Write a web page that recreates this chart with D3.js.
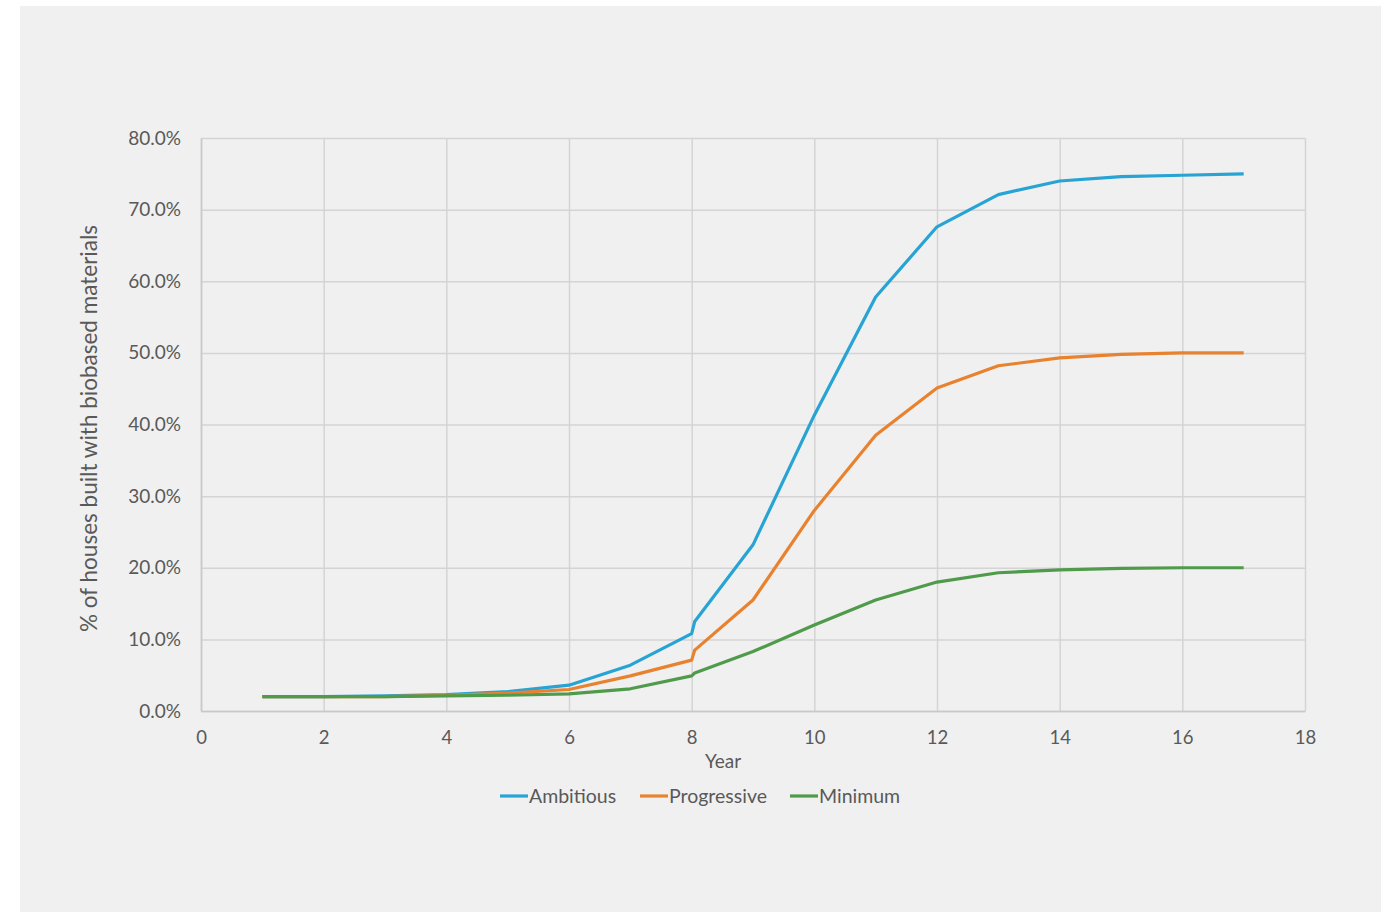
<!DOCTYPE html>
<html>
<head>
<meta charset="utf-8">
<script src="https://cdn.jsdelivr.net/npm/d3@7"></script>
<style>
  html, body { margin: 0; padding: 0; background: #ffffff; }
  svg { display: block; }
</style>
</head>
<body>
<svg id="chart" width="1386" height="912"></svg>
<script>
// ---- data ----
const years = [1, 2, 3, 4, 5, 6, 7, 8, 8.05, 9, 10, 11, 12, 13, 14, 15, 16, 17];
const ambitious   = [2.0, 2.0, 2.1, 2.3, 2.7, 3.6, 6.4, 10.8, 12.5, 23.2, 41.3, 57.8, 67.6, 72.1, 74.0, 74.6, 74.8, 75.0];
const progressive = [2.0, 2.0, 2.0, 2.2, 2.5, 3.0, 4.9, 7.1, 8.5, 15.5, 28.0, 38.5, 45.1, 48.2, 49.3, 49.8, 50.0, 50.0];
const minimum     = [2.0, 2.0, 2.0, 2.1, 2.2, 2.4, 3.1, 4.9, 5.3, 8.3, 12.0, 15.5, 18.0, 19.3, 19.7, 19.9, 20.0, 20.0];
const seriesNames = ["Ambitious", "Progressive", "Minimum"];
const seriesColors = ["#27a3d4", "#e8822f", "#4f9b4b"];
const xTicks = [0, 2, 4, 6, 8, 10, 12, 14, 16, 18];
const yTicks = [0, 10, 20, 30, 40, 50, 60, 70, 80];
const xTitle = "Year";
const yTitle = "% of houses built with biobased materials";

const seriesValues = [ambitious, progressive, minimum];

// ---- layout ----
const svg = d3.select("#chart");
const font = "Lato, 'Open Sans', 'Liberation Sans', sans-serif";
const textColor = "#595959";

svg.append("rect").attr("x", 20).attr("y", 6).attr("width", 1361).attr("height", 906).attr("fill", "#f0f0f0");

const plot = { left: 201, right: 1305, top: 138, bottom: 711 };
const x = d3.scaleLinear().domain([0, 18]).range([plot.left, plot.right]);
const y = d3.scaleLinear().domain([0, 80]).range([plot.bottom, plot.top]);

// gridlines
const grid = svg.append("g");
grid.selectAll("line.h").data(yTicks).join("line")
  .attr("x1", plot.left).attr("x2", plot.right)
  .attr("y1", d => y(d) + 0.5).attr("y2", d => y(d) + 0.5)
  .attr("stroke", "#d4d4d4").attr("stroke-width", 1.5);
grid.selectAll("line.v").data(xTicks).join("line")
  .attr("y1", plot.top).attr("y2", plot.bottom)
  .attr("x1", d => x(d) + 0.5).attr("x2", d => x(d) + 0.5)
  .attr("stroke", "#d4d4d4").attr("stroke-width", 1.5);

// axes
const xAxis = d3.axisBottom(x).tickValues(xTicks).tickSize(0).tickPadding(20).tickFormat(d3.format("d"));
const gx = svg.append("g").attr("transform", `translate(0,${plot.bottom})`).call(xAxis);
gx.select(".domain").attr("stroke", "#c8c8c8").attr("stroke-width", 1.5);
gx.selectAll("text").attr("fill", textColor).style("font-family", font).style("font-size", "18.5px");

const yAxis = d3.axisLeft(y).tickValues(yTicks).tickSize(0).tickPadding(20).tickFormat(d => d3.format(".1f")(d) + "%");
const gy = svg.append("g").attr("transform", `translate(${plot.left},0)`).call(yAxis);
gy.select(".domain").attr("stroke", "#c8c8c8").attr("stroke-width", 1.5);
gy.selectAll("text").attr("fill", textColor).style("font-family", font).style("font-size", "19px");

// axis titles
svg.append("text").attr("x", 723).attr("y", 768).attr("text-anchor", "middle")
  .attr("fill", textColor).style("font-family", font).style("font-size", "19px").text(xTitle);
svg.append("text").attr("transform", `translate(97,${(plot.top + plot.bottom) / 2 + 4}) rotate(-90)`)
  .attr("text-anchor", "middle").attr("fill", textColor)
  .style("font-family", font).style("font-size", "22.5px").text(yTitle);

// lines
const line = d3.line().x((d, i) => x(years[i])).y(d => y(d));
svg.append("g").selectAll("path").data(seriesValues).join("path")
  .attr("d", d => line(d))
  .attr("fill", "none")
  .attr("stroke", (d, i) => seriesColors[i])
  .attr("stroke-width", 3.2)
  .attr("stroke-linejoin", "round");

// legend
const legendX = [500, 640, 790];
const lg = svg.append("g").selectAll("g").data(seriesNames).join("g")
  .attr("transform", (d, i) => `translate(${legendX[i]},796)`);
lg.append("line").attr("x1", 0).attr("x2", 28).attr("y1", 0).attr("y2", 0)
  .attr("stroke", (d, i) => seriesColors[i]).attr("stroke-width", 3.2);
lg.append("text").attr("x", 29).attr("y", 6.5).attr("fill", textColor)
  .style("font-family", font).style("font-size", "19.5px").text(d => d);
</script>
</body>
</html>
